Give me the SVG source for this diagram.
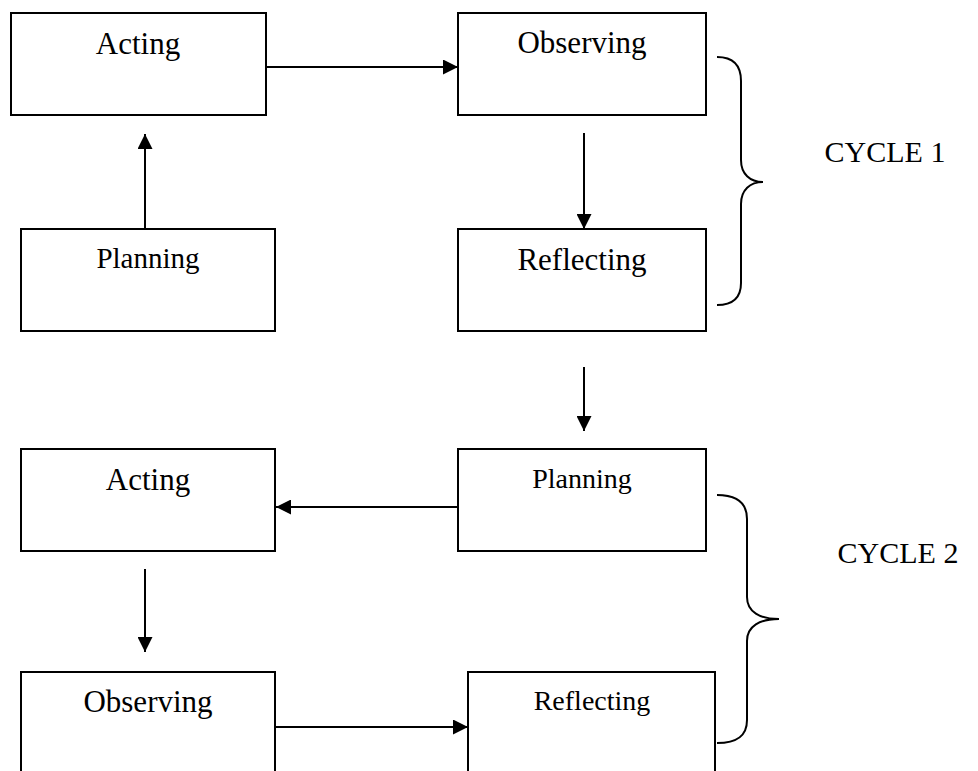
<svg xmlns="http://www.w3.org/2000/svg" width="978" height="771" viewBox="0 0 978 771">
<style>
.box{fill:#fff;stroke:#000;stroke-width:2}
.lbl{font-family:"Liberation Serif","Times New Roman",serif;fill:#000;text-anchor:middle}
.conn{stroke:#000;stroke-width:2;fill:none}
.brace{stroke:#000;stroke-width:2;fill:none}
</style>
<defs>
<marker id="ah" markerUnits="userSpaceOnUse" markerWidth="15" markerHeight="15" refX="15" refY="7.5" orient="auto">
<path d="M0,0 L15,7.5 L0,15 Z" fill="#000"/>
</marker>
</defs>
<rect width="978" height="771" fill="#fff"/>
<g id="acting1"><rect class="box" x="11" y="13" width="255" height="102"/><text class="lbl" x="138" y="54" font-size="31">Acting</text></g>
<g id="observing1"><rect class="box" x="458" y="13" width="248" height="102"/><text class="lbl" x="582" y="53" font-size="31">Observing</text></g>
<g id="planning1"><rect class="box" x="21" y="229" width="254" height="102"/><text class="lbl" x="148" y="268" font-size="29">Planning</text></g>
<g id="reflecting1"><rect class="box" x="458" y="229" width="248" height="102"/><text class="lbl" x="582" y="270" font-size="31">Reflecting</text></g>
<g id="acting2"><rect class="box" x="21" y="449" width="254" height="102"/><text class="lbl" x="148" y="490" font-size="31">Acting</text></g>
<g id="planning2"><rect class="box" x="458" y="449" width="248" height="102"/><text class="lbl" x="582" y="488" font-size="28">Planning</text></g>
<g id="observing2"><rect class="box" x="21" y="672" width="254" height="120"/><text class="lbl" x="148" y="712" font-size="31">Observing</text></g>
<g id="reflecting2"><rect class="box" x="468" y="672" width="247" height="120"/><text class="lbl" x="592" y="710" font-size="28">Reflecting</text></g>
<g id="cycle1"><path class="brace" d="M717,57 C733,57 741,65 741,81 L741,160 C741,174 750,182 763,182 C750,182 741,190 741,204 L741,283 C741,298 733,305 717,305"/><text class="lbl" x="885" y="162" font-size="30">CYCLE 1</text></g>
<g id="cycle2"><path class="brace" d="M717,495 C737,495 747,503 747,519 L747,597 C747,612 760,619 779,619 C760,619 747,626 747,641 L747,720 C747,736 737,743 717,743"/><text class="lbl" x="898" y="563" font-size="30">CYCLE 2</text></g>
<g id="connectors">
<line class="conn" x1="266" y1="67" x2="458" y2="67" marker-end="url(#ah)"/>
<line class="conn" x1="145" y1="229" x2="145" y2="134" marker-end="url(#ah)"/>
<line class="conn" x1="584" y1="133" x2="584" y2="229" marker-end="url(#ah)"/>
<line class="conn" x1="584" y1="367" x2="584" y2="431" marker-end="url(#ah)"/>
<line class="conn" x1="458" y1="507" x2="276" y2="507" marker-end="url(#ah)"/>
<line class="conn" x1="145" y1="569" x2="145" y2="652" marker-end="url(#ah)"/>
<line class="conn" x1="275" y1="727" x2="468" y2="727" marker-end="url(#ah)"/>
</g>
</svg>
